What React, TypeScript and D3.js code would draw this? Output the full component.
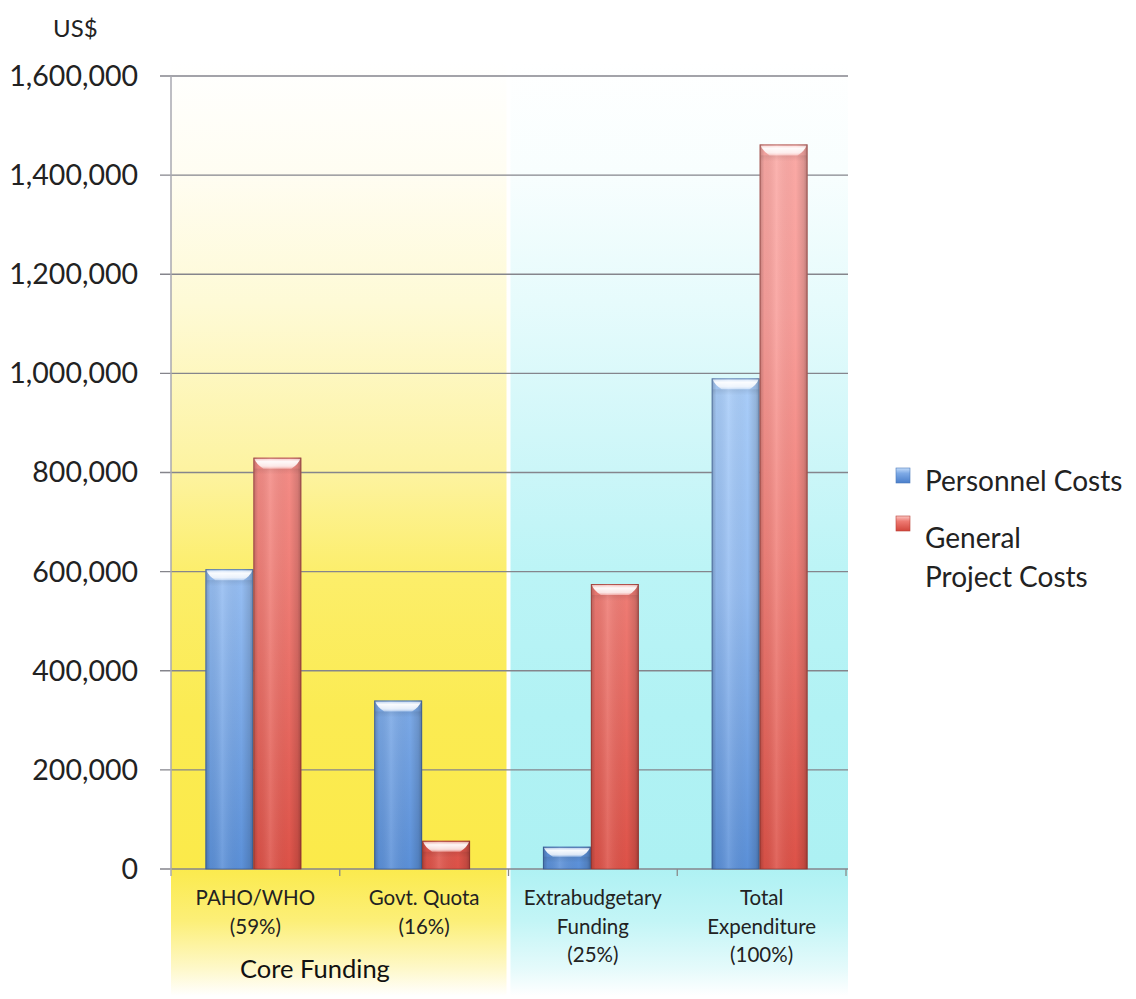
import React from "react";
import * as d3 from "d3";

// Funding sources shown along the x axis (each label split into lines)
const categories = ["PAHO/WHO", "Govt. Quota", "Extrabudgetary", "Total"];
const categoryLines: string[][] = [
  ["PAHO/WHO", "(59%)"],
  ["Govt. Quota", "(16%)"],
  ["Extrabudgetary", "Funding", "(25%)"],
  ["Total", "Expenditure", "(100%)"],
];

const seriesNames = ["Personnel Costs", "General Project Costs"];
const personnelCosts = [605000, 340000, 45000, 990000];
const generalProjectCosts = [830000, 57000, 575000, 1462000];

const yTicks = [0, 200000, 400000, 600000, 800000, 1000000, 1200000, 1400000, 1600000];

const W = 1136;
const H = 999;
const left = 171;
const right = 846;
const top = 76;
const bottom = 869;

export default function App() {
  const x = d3.scaleBand<string>().domain(categories).range([left, right]).padding(0);
  const inner = d3
    .scaleBand<string>()
    .domain(seriesNames)
    .range([0, x.bandwidth()])
    .paddingInner(0)
    .paddingOuter(0.76);
  const y = d3.scaleLinear().domain([0, 1600000]).range([bottom, top]);
  const fmt = d3.format(",");

  const values = [personnelCosts, generalProjectCosts];
  const fills = ["url(#blueFill)", "url(#redFill)"];

  const coreEnd = x("Govt. Quota")! + x.bandwidth();
  const font = "Lato, 'Open Sans', sans-serif";

  const bars: React.ReactNode[] = [];
  categories.forEach((c, ci) => {
    seriesNames.forEach((s, si) => {
      const v = values[si][ci];
      const bx = x(c)! + inner(s)! - 2;
      const bw = inner.bandwidth();
      const by = y(v);
      const bh = y(0) - by;
      const bev = Math.min(11, bh * 0.45);
      bars.push(
        <g key={`${c}-${s}`}>
          <rect x={bx} y={by} width={bw} height={bh} fill={fills[si]} />
          <rect x={bx} y={by} width={bw} height={bh} fill="url(#sideShade)" />
          {/* soft shade under the top bevel */}
          <rect x={bx + 1} y={by + bev} width={bw - 2} height={Math.min(6, bh - bev)} fill="url(#underBevel)" />
          <path
            d={`M${bx + 1},${by + 1} L${bx + bw - 1},${by + 1} Q${bx + bw - 3},${by + bev * 0.6} ${bx + bw - 10},${by + bev} L${bx + 10},${by + bev} Q${bx + 3},${by + bev * 0.6} ${bx + 1},${by + 1} Z`}
            fill="url(#bevel)"
          />
          <rect
            x={bx + 0.5}
            y={by + 0.5}
            width={bw - 1}
            height={bh - 0.5}
            fill="none"
            stroke={si === 0 ? "rgba(40,70,120,0.5)" : "rgba(120,40,35,0.5)"}
            strokeWidth={1}
          />
        </g>
      );
    });
  });

  return (
    <svg width={W} height={H} style={{ position: "absolute", left: 0, top: 0, background: "#fff" }}>
      <defs>
        <linearGradient id="yellowBg" gradientUnits="userSpaceOnUse" x1="0" y1="60" x2="0" y2="996">
          <stop offset="0" stopColor="#ffffff" />
          <stop offset="0.12" stopColor="#fffdf2" />
          <stop offset="0.26" stopColor="#fefad6" />
          <stop offset="0.44" stopColor="#fdf3a0" />
          <stop offset="0.55" stopColor="#fcee6a" />
          <stop offset="0.7" stopColor="#fbeb52" />
          <stop offset="0.86" stopColor="#fbea4a" />
          <stop offset="0.92" stopColor="#fcef78" />
          <stop offset="0.97" stopColor="#fef8c8" />
          <stop offset="1" stopColor="#ffffff" />
        </linearGradient>
        <linearGradient id="cyanBg" gradientUnits="userSpaceOnUse" x1="0" y1="60" x2="0" y2="996">
          <stop offset="0" stopColor="#ffffff" />
          <stop offset="0.12" stopColor="#f8fefe" />
          <stop offset="0.26" stopColor="#e6fbfc" />
          <stop offset="0.44" stopColor="#cbf6f8" />
          <stop offset="0.55" stopColor="#bbf4f6" />
          <stop offset="0.7" stopColor="#b1f2f4" />
          <stop offset="0.86" stopColor="#adf1f3" />
          <stop offset="0.92" stopColor="#c3f5f6" />
          <stop offset="0.97" stopColor="#e4fafb" />
          <stop offset="1" stopColor="#ffffff" />
        </linearGradient>
        <linearGradient id="blueFill" gradientUnits="userSpaceOnUse" x1="0" y1={top} x2="0" y2={bottom}>
          <stop offset="0" stopColor="#b4d4fb" />
          <stop offset="0.4" stopColor="#a8ccf8" />
          <stop offset="0.65" stopColor="#94bcf1" />
          <stop offset="1" stopColor="#5b90d8" />
        </linearGradient>
        <linearGradient id="redFill" gradientUnits="userSpaceOnUse" x1="0" y1={top} x2="0" y2={bottom}>
          <stop offset="0" stopColor="#fbaeaa" />
          <stop offset="0.3" stopColor="#f99f9b" />
          <stop offset="0.6" stopColor="#f1827b" />
          <stop offset="1" stopColor="#dd5248" />
        </linearGradient>
        <linearGradient id="sideShade" x1="0" y1="0" x2="1" y2="0">
          <stop offset="0" stopColor="#000" stopOpacity="0.22" />
          <stop offset="0.1" stopColor="#000" stopOpacity="0.04" />
          <stop offset="0.35" stopColor="#fff" stopOpacity="0.12" />
          <stop offset="0.75" stopColor="#000" stopOpacity="0" />
          <stop offset="0.92" stopColor="#000" stopOpacity="0.12" />
          <stop offset="1" stopColor="#000" stopOpacity="0.28" />
        </linearGradient>
        <linearGradient id="bevel" x1="0" y1="0" x2="0" y2="1">
          <stop offset="0" stopColor="#fff" stopOpacity="0.55" />
          <stop offset="0.3" stopColor="#fff" stopOpacity="0.95" />
          <stop offset="0.75" stopColor="#fff" stopOpacity="0.8" />
          <stop offset="1" stopColor="#fff" stopOpacity="0.35" />
        </linearGradient>
        <linearGradient id="underBevel" x1="0" y1="0" x2="0" y2="1">
          <stop offset="0" stopColor="#000" stopOpacity="0.08" />
          <stop offset="1" stopColor="#000" stopOpacity="0" />
        </linearGradient>
        <linearGradient id="legendBlue" x1="0" y1="0" x2="0" y2="1">
          <stop offset="0" stopColor="#c4dcfa" />
          <stop offset="0.35" stopColor="#7eaae6" />
          <stop offset="1" stopColor="#4a7fcb" />
        </linearGradient>
        <linearGradient id="legendRed" x1="0" y1="0" x2="0" y2="1">
          <stop offset="0" stopColor="#fbc6c2" />
          <stop offset="0.35" stopColor="#ee7a72" />
          <stop offset="1" stopColor="#d2463c" />
        </linearGradient>
      </defs>

      {/* Core funding and extrabudgetary background panels */}
      <rect x={left} y={60} width={coreEnd - left - 2} height={936} fill="url(#yellowBg)" />
      <rect x={coreEnd + 2} y={60} width={right + 2 - coreEnd - 2} height={936} fill="url(#cyanBg)" />

      {/* Gridlines and y ticks */}
      {yTicks.map((t) => (
        <line key={t} x1={160} x2={848} y1={y(t)} y2={y(t)} stroke="#85858c" strokeWidth={1.3} />
      ))}
      <line x1={left} x2={left} y1={top} y2={bottom + 7} stroke="#a8a8b0" strokeWidth={1.5} />
      {categories.map((c) => (
        <line
          key={c}
          x1={x(c)! + x.bandwidth()}
          x2={x(c)! + x.bandwidth()}
          y1={bottom}
          y2={bottom + 7}
          stroke="#8a8a8a"
          strokeWidth={1.3}
        />
      ))}

      {bars}

      {/* Y tick labels */}
      {yTicks.map((t) => (
        <text
          key={t}
          x={138}
          y={y(t)}
          dy="0.35em"
          textAnchor="end"
          fontFamily={font}
          fontSize={28.5}
          fill="#222"
        >
          {fmt(t)}
        </text>
      ))}
      <text x={53} y={37} fontFamily={font} fontSize={24} fill="#222">
        US$
      </text>

      {/* Category labels */}
      {categories.map((c, i) =>
        categoryLines[i].map((line, li) => (
          <text
            key={`${c}-${li}`}
            x={x(c)! + x.bandwidth() / 2}
            y={905 + li * 28.5}
            textAnchor="middle"
            fontFamily={font}
            fontSize={20.5}
            fill="#222"
          >
            {line}
          </text>
        ))
      )}
      <text x={315} y={978} textAnchor="middle" fontFamily={font} fontSize={25.5} fill="#111">
        Core Funding
      </text>

      {/* Legend */}
      <g fontFamily={font} fontSize={28} fill="#222">
        <rect x={896} y={468} width={14} height={15} fill="url(#legendBlue)" stroke="#4a78b8" strokeWidth={0.6} />
        <text x={925} y={491}>
          Personnel Costs
        </text>
        <rect x={896} y={516} width={14} height={15} fill="url(#legendRed)" stroke="#b84038" strokeWidth={0.6} />
        <text x={925} y={548}>
          General
        </text>
        <text x={925} y={587}>
          Project Costs
        </text>
      </g>
    </svg>
  );
}
